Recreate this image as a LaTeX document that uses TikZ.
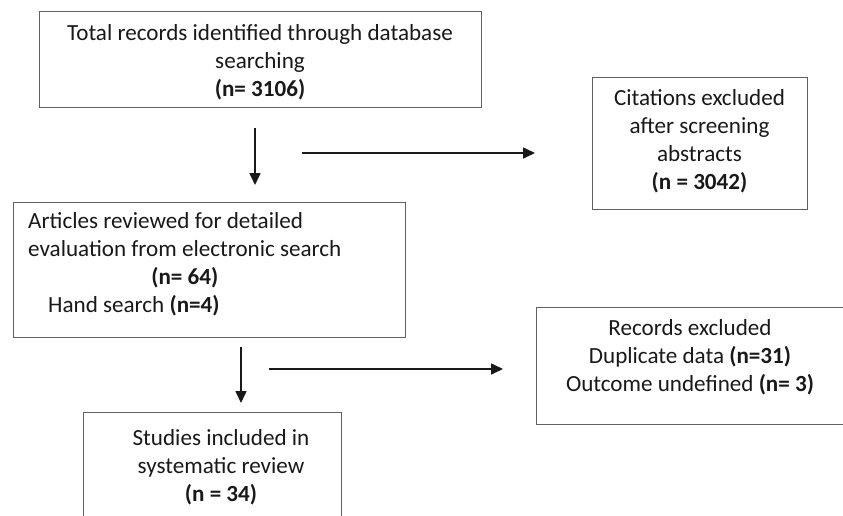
\documentclass[tikz,border=0pt]{standalone}
\usepackage{fontspec}
\setmainfont{Carlito}
\usetikzlibrary{arrows.meta}
\begin{document}
\begin{tikzpicture}[x=1pt,y=-1pt,
  frame/.style={draw=black!62, line width=0.9pt, inner sep=0pt},
  txt/.style={font=\fontsize{23.1}{28}\selectfont, align=center, inner sep=0pt, text=black!90},
  flow/.style={draw=black!90, line width=1.6pt, -{Triangle[length=12pt,width=11pt]}}]
\useasboundingbox (0,0) rectangle (843,515);

% boxes
\node[frame, minimum width=442pt, minimum height=96pt] (total) at (260,59) {};
\node[frame, minimum width=215pt, minimum height=132pt] (citations) at (699.5,143) {};
\node[frame, minimum width=392pt, minimum height=135pt] (articles) at (209,269.5) {};
\node[frame, minimum width=320pt, minimum height=117pt] (records) at (696,365.5) {};
\node[frame, minimum width=258pt, minimum height=118pt] (studies) at (212,471) {};

% box texts
\node[txt] (totaltxt) at (260,62) {Total records identified through database\\searching\\\textbf{(n= 3106)}};
\node[txt] (citationstxt) at (699.5,141.5) {Citations excluded\\after screening\\abstracts\\\textbf{(n = 3042)}};
\node[txt, anchor=west] (articlestxt) at (28,265) {\begin{tabular}{@{}l@{}}
Articles reviewed for detailed\\
evaluation from electronic search\\
\multicolumn{1}{@{}c@{}}{\textbf{(n= 64)}}\\
\hspace{20pt}Hand search \textbf{(n=4)}
\end{tabular}};
\node[txt] (recordstxt) at (690,357) {Records excluded\\Duplicate data \textbf{(n=31)}\\Outcome undefined \textbf{(n= 3)}};
\node[txt] (studiestxt) at (221,467.5) {Studies included in\\systematic review\\\textbf{(n = 34)}};

% arrows
\coordinate (d1s) at (255,128);
\coordinate (d1e) at (255,185);
\coordinate (r1s) at (302,153);
\coordinate (r1e) at (535,153);
\coordinate (d2s) at (241,347);
\coordinate (d2e) at (241,403);
\coordinate (r2s) at (269,369);
\coordinate (r2e) at (503,369);
\draw[flow] (d1s) -- (d1e);
\draw[flow] (r1s) -- (r1e);
\draw[flow] (d2s) -- (d2e);
\draw[flow] (r2s) -- (r2e);
\end{tikzpicture}
\end{document}
